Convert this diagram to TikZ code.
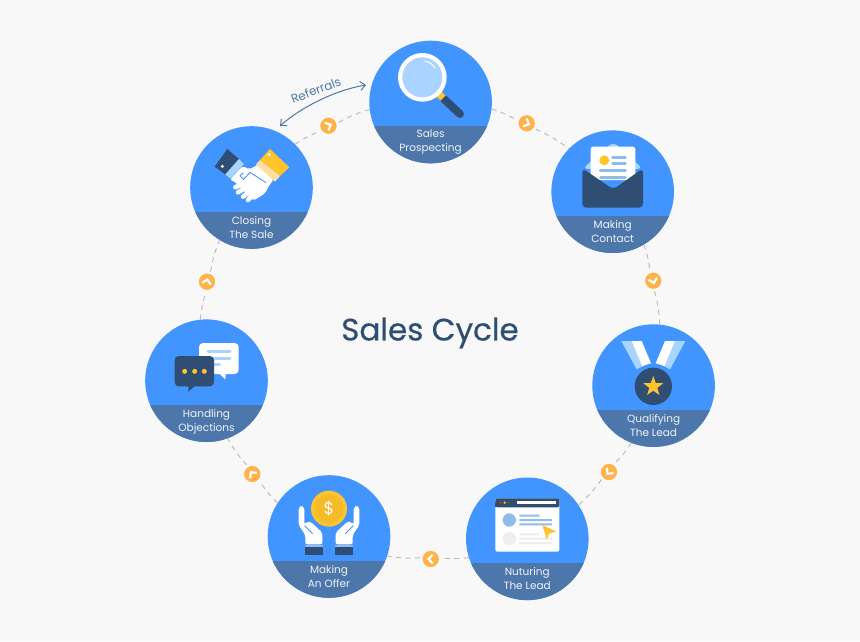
\documentclass[tikz,border=0pt]{standalone}
\usepackage{fontspec}
\setmainfont{Poppins}
\usetikzlibrary{arrows.meta,shapes.geometric}
\definecolor{bgc}{HTML}{F8F8F8}
\definecolor{bluec}{HTML}{4295FF}
\definecolor{bandc}{HTML}{4D77AB}
\definecolor{darkc}{HTML}{304E73}
\definecolor{lightc}{HTML}{A9D4FF}
\definecolor{midc}{HTML}{8FBCEB}
\definecolor{yelc}{HTML}{FFC42B}
\definecolor{coinc}{HTML}{F5BC2A}
\definecolor{palec}{HTML}{FFDFA0}
\definecolor{orc}{HTML}{FFB14A}
\definecolor{dashc}{HTML}{BDBDBD}
\definecolor{txtc}{HTML}{F0F5FC}
\definecolor{greyc}{HTML}{EEEEEE}
\newcommand{\chevat}[2]{\draw[chev,shift={(#1)},rotate=-#2] (-2,-4.3)--(2.3,0)--(-2,4.3);}
\tikzset{
  stage/.style={circle,fill=bluec,minimum size=122.6pt,inner sep=0pt,
    path picture={\fill[bandc] ([shift={(-70,#1)}]path picture bounding box.center) rectangle +(140,60);}},
  stagelabel/.style={text=txtc,align=center,font=\fontsize{10.5}{14}\selectfont,inner sep=0pt},
  badge/.style={circle,fill=orc,draw=bgc,line width=2.5pt,minimum size=19pt,inner sep=0pt},
  link/.style={draw=dashc,line width=1pt,dash pattern=on 5pt off 4.5pt},
  chev/.style={draw=white,line width=2.2pt,line join=miter}
}
\begin{document}
\begin{tikzpicture}[x=1pt,y=-1pt]
\useasboundingbox (0,0) rectangle (860,641);
\fill[bgc] (0,0) rectangle (860,641);

% stages
\node[stage=24] (sales) at (430.6,102) {};
\node[stage=24.3] (contact) at (612.7,191.7) {};
\node[stage=24.4] (qual) at (653.6,385.6) {};
\node[stage=24.2] (nurt) at (527.3,538.8) {};
\node[stage=24.5] (offer) at (329,536.5) {};
\node[stage=24.3] (handle) at (206.5,380.7) {};
\node[stage=24.5] (close) at (251.5,187.5) {};

% badges
\node[badge] (b1) at (328.5,125.7) {};
\node[badge] (b2) at (526.7,123.3) {};
\node[badge] (b3) at (653.3,280.7) {};
\node[badge] (b4) at (609,472) {};
\node[badge] (b5) at (430.7,559) {};
\node[badge] (b6) at (252.3,474) {};
\node[badge] (b7) at (207,281.7) {};

% connectors
\draw[link] (sales) to[bend left=6] (b2);
\draw[link] (b2) to[bend left=6] (contact);
\draw[link] (contact) to[bend left=6] (b3);
\draw[link] (b3) to[bend left=6] (qual);
\draw[link] (qual) to[bend left=6] (b4);
\draw[link] (b4) to[bend left=6] (nurt);
\draw[link] (nurt) to[bend left=6] (b5);
\draw[link] (b5) to[bend left=6] (offer);
\draw[link] (offer) to[bend left=6] (b6);
\draw[link] (b6) to[bend left=6] (handle);
\draw[link] (handle) to[bend left=6] (b7);
\draw[link] (b7) to[bend left=6] (close);
\draw[link] (close) to[bend left=6] (b1);
\draw[link] (b1) to[bend left=6] (sales);

% chevrons, each along the ring
\chevat{b1}{334}
\chevat{b2}{25}
\chevat{b3}{77}
\chevat{b4}{128}
\chevat{b5}{180}
\chevat{b6}{231}
\chevat{b7}{283}

% labels
\node[stagelabel] (lsales) at (430.6,141.7) {Sales\\Prospecting};
\node[stagelabel] (lcontact) at (612.7,231.2) {Making\\Contact};
\node[stagelabel] (lqual) at (653.6,425.4) {Qualifying\\The Lead};
\node[stagelabel] (lnurt) at (527.3,578.2) {Nuturing\\The Lead};
\node[stagelabel] (loffer) at (329,577) {Making\\An Offer};
\node[stagelabel] (lhandle) at (206.5,421.5) {Handling\\Objections};
\node[stagelabel] (lclose) at (251.5,227.2) {Closing\\The Sale};

% title
\node[text=darkc,font=\fontsize{31}{36}\selectfont,inner sep=0pt] (title) at (430,333) {\addfontfeature{FakeBold=0.5}Sales Cycle};

% referrals
\coordinate (refA) at (280,126);
\coordinate (refB) at (366,85);
\draw[bandc,line width=1pt,{Straight Barb[length=5pt,width=9pt]}-{Straight Barb[length=5pt,width=9pt]}] (refA) .. controls (300,108) and (335,90) .. (refB);
\node[text=bandc,rotate=21,font=\fontsize{12}{14}\selectfont,inner sep=0pt] (ref) at (316,90) {Referrals};

% magnifier (zoom coordinates)
\begin{scope}[shift={(390,45)},scale=0.33333]
\draw[darkc,line width=8pt,line cap=round] (162,162)--(210,207);
\draw[yelc,line width=7pt] (146,146)--(159,159);
\fill[white] (97,97) circle (73);
\fill[lightc] (97,97) circle (60);
\draw[white,line width=1pt] (103,48) .. controls (118,50) and (128,58) .. (135,70);
\end{scope}

% envelope
\begin{scope}[shift={(500,100)},scale=0.33333]
\fill[lightc,rounded corners=6pt] (247,207)--(340,125)--(429,207)--cycle;
\fill[white,rounded corners=2.5pt] (272,140)--(406,140)--(406,240)--(272,240)--cycle;
\fill[yelc] (313,181) circle (15);
\draw[midc,line width=3pt,line cap=round] (338,171)--(376,171) (338,191)--(376,191) (301,211)--(376,211) (301,232)--(376,232);
\fill[darkc,rounded corners=4pt] (247,205)--(340,268)--(429,205)--(429,323)--(247,323)--cycle;
\end{scope}

% medal
\begin{scope}[shift={(580,320)},scale=0.33333]
\fill[lightc] (124,63)--(155,63)--(187,140)--(170,148)--cycle;
\fill[white] (155,63)--(185,63)--(213,130)--(187,140)--cycle;
\fill[lightc] (316,63)--(285,63)--(253,140)--(270,148)--cycle;
\fill[white] (285,63)--(255,63)--(227,130)--(253,140)--cycle;
\fill[bluec] (220,199) circle (68);
\fill[darkc] (220,199) circle (56);
\end{scope}
\node[star,star points=5,star point ratio=2.5,fill=yelc,minimum size=21pt,inner sep=0pt] (medalstar) at (653.3,386.5) {};

% browser
\begin{scope}[shift={(400,460)},scale=0.33333]
\fill[white,rounded corners=2pt] (286,115) rectangle (478,275);
\fill[darkc,rounded corners=2pt] (286,115) rectangle (478,142);
\fill[darkc] (286,130) rectangle (478,142);
\fill[red!75!orange] (302,128) circle (4);
\fill[yelc] (314,128) circle (4);
\fill[green!60!black] (326,128) circle (4);
\fill[white] (352,124) rectangle (467,133);
\fill[midc] (328,180) circle (20);
\fill[greyc] (328,236) circle (20);
\fill[midc] (358,164) rectangle (418,170) (358,177) rectangle (456,183) (358,190) rectangle (456,196);
\fill[greyc] (358,220) rectangle (418,226) (358,233) rectangle (456,239) (358,246) rectangle (456,252);
\fill[yelc] (427,195)--(470,215)--(448,220)--(440,238)--cycle;
\end{scope}

% hands and coin
\begin{scope}[shift={(290,485)},scale=0.33333]
\foreach \s/\o in {1/0,-1/234}{
\begin{scope}[shift={(\o,0)},xscale=\s]
\fill[white,rounded corners=2pt] (26,68)--(34,60)--(43,68)--(43,118)--(52,110)--(62,110)--(97,143)--(97,178)--(46,178)--(46,150)--(26,120)--cycle;
\draw[bluec,line width=.8pt] (44,122)--(68,146);
\fill[midc] (45,180) rectangle (98,187);
\fill[darkc] (45,187) rectangle (98,210);
\end{scope}}
\fill[yelc] (117,71) circle (54);
\fill[coinc] (117,71) circle (43);
\end{scope}
\node[text=white,font=\fontsize{17}{17}\selectfont,inner sep=0pt] (coin) at (329,509) {\$};

% chat
\begin{scope}[shift={(135,260)},scale=0.33333]
\fill[white,rounded corners=4pt] (192,249) rectangle (311,342);
\fill[white] (252,340)--(272,340)--(271,358)--cycle;
\draw[lightc,line width=3pt,line cap=round] (219,275)--(285,275) (219,294)--(285,294) (219,312)--(254,312);
\fill[darkc,rounded corners=4pt] (119,288) rectangle (237,379);
\fill[darkc] (160,377)--(180,377)--(160,396)--cycle;
\fill[yelc] (149,334) circle (7.5) (179,334) circle (7.5) (208,334) circle (7.5);
\end{scope}

% handshake
\begin{scope}[shift={(210,140)},scale=0.33333]
\fill[white,rounded corners=2pt] (60,118)--(98,78)--(118,88)--(148,72)--(192,118)--(178,135)--(165,160)--(130,182)--(80,130)--cycle;
\draw[white,line width=4.5pt,line cap=round] (100,130)--(76,142) (108,143)--(84,157) (118,155)--(99,170) (128,165)--(114,180);
\draw[bluec,line width=.9pt,line join=round] (100,98)--(90,107)--(101,118)--(120,97)--(168,128);
\fill[darkc] (14,80)--(52,27)--(87,57)--(46,103)--cycle;
\fill[lightc] (87,57)--(102,72)--(60,115)--(46,103)--cycle;
\fill[white] (37,79) circle (5);
\fill[yelc] (150,60)--(180,27)--(238,82)--(210,108)--cycle;
\fill[palec] (150,60)--(210,108)--(195,125)--(138,73)--cycle;
\fill[white] (178,44) circle (5);
\end{scope}
\end{tikzpicture}
\end{document}
